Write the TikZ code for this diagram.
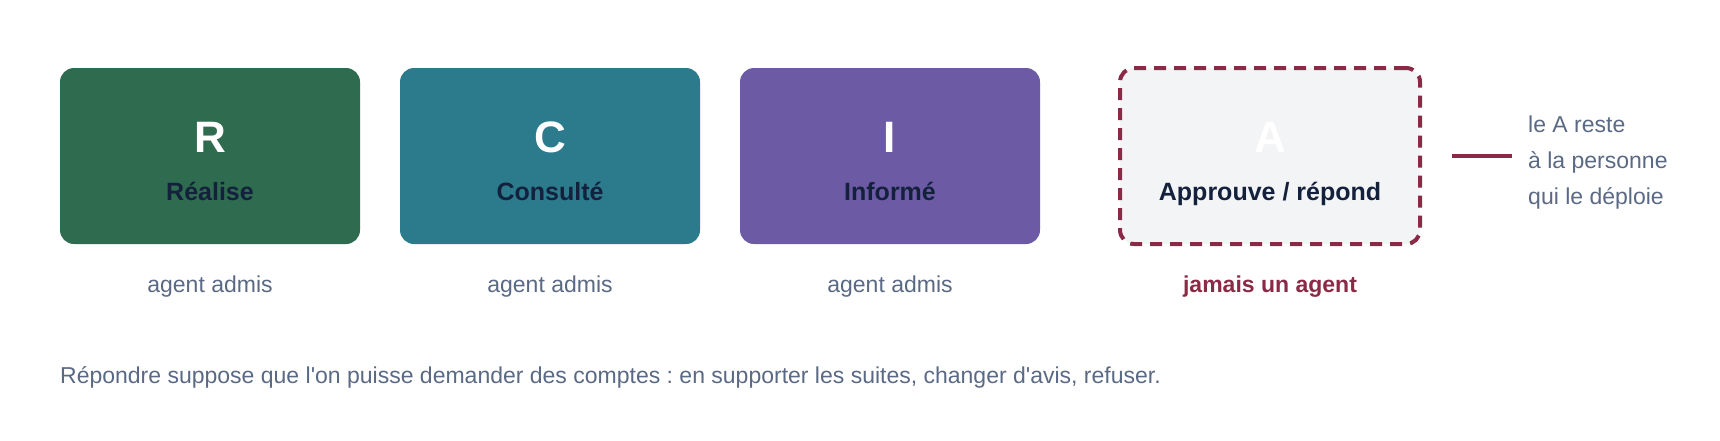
\documentclass[tikz,border=0pt]{standalone}
\usepackage{fontspec}
\setmainfont{Liberation Sans}[Ligatures=TeXOff]
\frenchspacing
\definecolor{cR}{HTML}{2F6B4F}
\definecolor{cC}{HTML}{2B7B8C}
\definecolor{cI}{HTML}{6C5BA4}
\definecolor{cAfill}{HTML}{F3F4F6}
\definecolor{crim}{HTML}{8B2A46}
\definecolor{navy}{HTML}{14213D}
\definecolor{grayt}{HTML}{5A6984}
\begin{document}
\begin{tikzpicture}[x=1pt,y=-1pt,
  rolebox/.style={rounded corners=14pt,minimum width=300pt,minimum height=176pt,inner sep=0pt,draw=none},
  letter/.style={anchor=base,font=\fontsize{44}{50}\selectfont\bfseries,text=white,inner sep=0pt},
  rolename/.style={anchor=base,font=\fontsize{25}{28}\selectfont\bfseries,text=navy,inner sep=0pt},
  sub/.style={anchor=base,font=\fontsize{23}{26}\selectfont,text=grayt,inner sep=0pt},
  note/.style={anchor=base west,font=\fontsize{23}{26}\selectfont,text=grayt,inner sep=0pt}]
\useasboundingbox (0,0) rectangle (1720,440);
\node[rolebox,fill=cR] (bR) at (210,156) {};
\node[rolebox,fill=cC] (bC) at (550,156) {};
\node[rolebox,fill=cI] (bI) at (890,156) {};
\node[rolebox,fill=cAfill,draw=crim,line width=4pt,dash pattern=on 12pt off 8pt] (bA) at (1270,156) {};
\node[letter] (lR) at (210,152) {R};
\node[letter] (lC) at (550,152) {C};
\node[letter] (lI) at (890,152) {I};
\node[letter] (lA) at (1270,152) {A};
\node[rolename] (nR) at (210,200) {Réalise};
\node[rolename] (nC) at (550,200) {Consulté};
\node[rolename] (nI) at (890,200) {Informé};
\node[rolename] (nA) at (1270,200) {Approuve / répond};
\node[sub] (sR) at (210,292) {agent admis};
\node[sub] (sC) at (550,292) {agent admis};
\node[sub] (sI) at (890,292) {agent admis};
\node[sub,text=crim,font=\fontsize{23}{26}\selectfont\bfseries] (sA) at (1270,292) {jamais un agent};
\coordinate (m1) at (1452,156);
\coordinate (m2) at (1512,156);
\draw[crim,line width=4pt] (m1) -- (m2);
\node[note] (t1) at (1528,132) {le A reste};
\node[note] (t2) at (1528,168) {à la personne};
\node[note] (t3) at (1528,204) {qui le déploie};
\node[note] (foot) at (60,383) {Répondre suppose que l'on puisse demander des comptes : en supporter les suites, changer d'avis, refuser.};
\end{tikzpicture}
\end{document}
